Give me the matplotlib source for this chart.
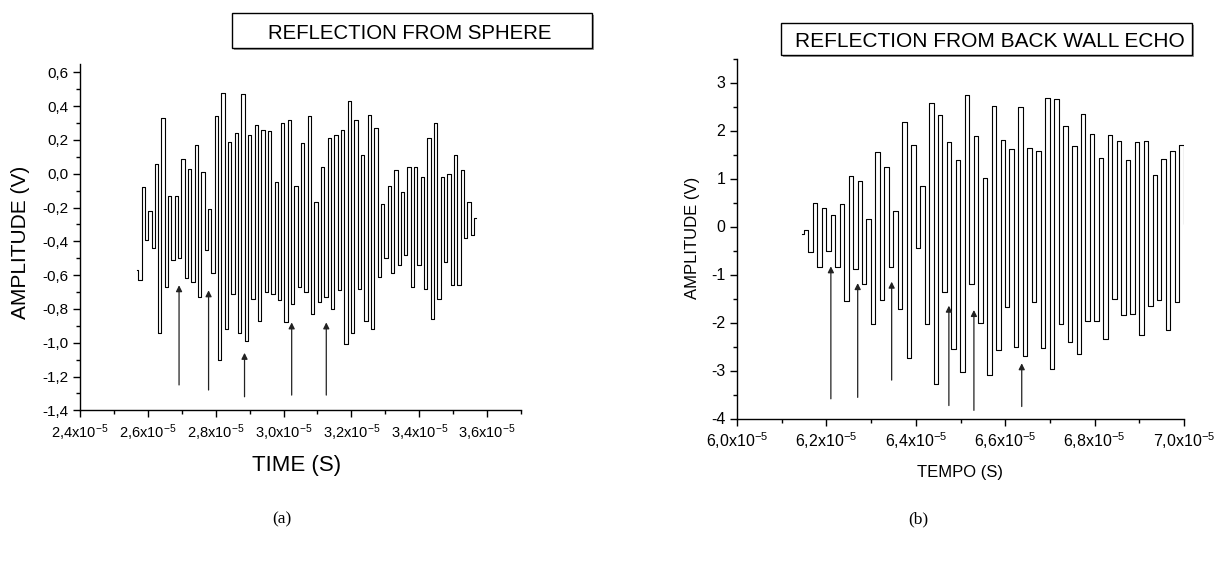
import numpy as np
import matplotlib
matplotlib.use('Agg')
import matplotlib.pyplot as plt
from matplotlib.ticker import FixedLocator, FuncFormatter
from matplotlib.patches import Rectangle

plt.rcParams['font.family'] = ['Liberation Sans', 'DejaVu Sans']
plt.rcParams['mathtext.fontset'] = 'custom'
plt.rcParams['mathtext.rm'] = 'Liberation Sans'
plt.rcParams['mathtext.it'] = 'Liberation Sans'
plt.rcParams['mathtext.default'] = 'regular'
plt.rcParams['axes.unicode_minus'] = False

# ---------------- data (time in units of 1e-5 s, amplitude in V) ----------------
# (a) reflection from sphere: alternating plateau levels (highs / lows)
left_start = [-0.57, -0.63]
left_highs = [-0.08, -0.22, 0.06, 0.33, -0.13, -0.13, 0.09, 0.03, 0.17, 0.01,
              -0.21, 0.34, 0.48, 0.19, 0.24, 0.47, 0.23, 0.29, 0.26, 0.25,
              -0.05, 0.30, 0.32, -0.07, 0.18, 0.34, -0.17, 0.04, 0.21, 0.23,
              0.26, 0.43, 0.32, 0.11, 0.35, 0.27, -0.18, -0.07, 0.02, -0.11,
              0.04, 0.04, -0.02, 0.21, 0.30, -0.02, 0.00, 0.11, 0.02, -0.17,
              -0.26]
left_lows = [-0.39, -0.44, -0.94, -0.67, -0.51, -0.50, -0.62, -0.64, -0.73, -0.45,
             -0.59, -1.10, -0.92, -0.71, -0.94, -0.99, -0.74, -0.87, -0.70, -0.71,
             -0.75, -0.88, -0.77, -0.67, -0.70, -0.83, -0.76, -0.73, -0.80, -0.69,
             -1.01, -0.94, -0.68, -0.87, -0.92, -0.61, -0.50, -0.59, -0.54, -0.48,
             -0.67, -0.54, -0.68, -0.86, -0.74, -0.52, -0.66, -0.66, -0.38, -0.36]
left_t0 = 2.5667      # first sample time (1e-5 s)
left_dt = 0.0098      # sample spacing (1e-5 s)

left_arrow_t = [2.692, 2.779, 2.885, 3.024, 3.126]
left_arrow_tail = [-1.25, -1.28, -1.32, -1.31, -1.31]
left_arrow_tip = [-0.66, -0.69, -1.06, -0.88, -0.88]

left_yticks = [-1.4, -1.2, -1.0, -0.8, -0.6, -0.4, -0.2, 0.0, 0.2, 0.4, 0.6]
left_xticks = [2.4, 2.6, 2.8, 3.0, 3.2, 3.4, 3.6]

# (b) reflection from back wall echo
right_start = [-0.15, -0.08]
right_lows = [-0.54, -0.85, -0.50, -0.85, -1.56, -0.88, -1.19, -2.03, -1.54, -0.85,
              -1.72, -2.74, -0.45, -2.04, -3.29, -1.37, -2.55, -3.03, -1.19, -2.01,
              -3.10, -2.58, -1.68, -2.51, -2.69, -1.58, -2.53, -2.97, -2.04, -2.41,
              -2.65, -1.96, -1.96, -2.34, -1.51, -1.85, -1.83, -2.27, -1.65, -1.54,
              -2.15, -1.58]
right_highs = [0.49, 0.39, 0.25, 0.47, 1.06, 0.94, 0.16, 1.55, 1.25, 0.33,
               2.17, 1.69, 0.85, 2.58, 2.33, 1.77, 1.39, 2.75, 1.88, 1.01,
               2.52, 1.81, 1.62, 2.49, 1.64, 1.57, 2.68, 2.66, 2.10, 1.67,
               2.35, 1.93, 1.43, 1.90, 1.79, 1.39, 1.77, 1.78, 1.08, 1.41,
               1.58, 1.70]
right_end = [0.05]
right_t0 = 6.1446
right_dt = 0.0100

right_arrow_t = [6.210, 6.270, 6.346, 6.474, 6.530, 6.637]
right_arrow_tail = [-3.59, -3.56, -3.20, -3.73, -3.83, -3.75]
right_arrow_tip = [-0.83, -1.18, -1.15, -1.65, -1.74, -2.85]

right_yticks = [-4, -3, -2, -1, 0, 1, 2, 3]
right_xticks = [6.0, 6.2, 6.4, 6.6, 6.8, 7.0]

# ---------------- build series ----------------
left_vals = list(left_start)
for i in range(len(left_highs)):
    left_vals.append(left_highs[i])
    if i < len(left_lows):
        left_vals.append(left_lows[i])
left_vals = np.array(left_vals)
left_t = left_t0 + left_dt * np.arange(len(left_vals))

right_vals = list(right_start)
for lo, hi in zip(right_lows, right_highs):
    right_vals += [lo, hi]
right_vals += right_end
right_vals = np.array(right_vals)
right_t = right_t0 + right_dt * np.arange(len(right_vals))

# ---------------- figure ----------------
W, H = 1220, 572
fig = plt.figure(figsize=(W / 100, H / 100), dpi=100)

def px(x0, y0, x1, y1):
    return [x0 / W, 1 - y1 / H, (x1 - x0) / W, (y1 - y0) / H]

axL = fig.add_axes(px(80, 63.9, 521, 410.3))
axR = fig.add_axes(px(737, 58.5, 1184, 418.5))

def comma(v, nd):
    s = f"{v:.{nd}f}"
    if s.startswith('-') and float(s) == 0:
        s = s[1:]
    return s.replace('.', ',')

def style(ax, fx, fy):
    for s in ['top', 'right']:
        ax.spines[s].set_visible(False)
    for s in ['left', 'bottom']:
        ax.spines[s].set_linewidth(1.0)
    ax.tick_params(which='major', direction='out', length=5, width=1.0)
    ax.tick_params(which='minor', direction='out', length=3, width=1.0)
    ax.tick_params(axis='x', labelsize=fx)
    ax.tick_params(axis='y', labelsize=fy)

# left panel
axL.plot(left_t, left_vals, drawstyle='steps-mid', color='black', lw=0.8)
for t, a, b in zip(left_arrow_t, left_arrow_tail, left_arrow_tip):
    axL.annotate('', xy=(t, b), xytext=(t, a),
                 arrowprops=dict(arrowstyle='-|>', color='#222222', lw=0.9,
                                 mutation_scale=9, shrinkA=0, shrinkB=0))
axL.set_xlim(2.4, 3.7)
axL.set_ylim(-1.4, 0.65)
axL.xaxis.set_major_locator(FixedLocator(left_xticks))
axL.xaxis.set_minor_locator(FixedLocator([2.5, 2.7, 2.9, 3.1, 3.3, 3.5, 3.7]))
axL.yaxis.set_major_locator(FixedLocator(left_yticks))
axL.yaxis.set_minor_locator(FixedLocator([-1.3, -1.1, -0.9, -0.7, -0.5, -0.3, -0.1, 0.1, 0.3, 0.5]))
axL.xaxis.set_major_formatter(FuncFormatter(lambda v, p: comma(v, 1) + r'x10$^{-5}$'))
axL.yaxis.set_major_formatter(FuncFormatter(lambda v, p: comma(v, 1)))
style(axL, 10.5, 11)

# right panel
axR.plot(right_t, right_vals, drawstyle='steps-mid', color='black', lw=0.8)
for t, a, b in zip(right_arrow_t, right_arrow_tail, right_arrow_tip):
    axR.annotate('', xy=(t, b), xytext=(t, a),
                 arrowprops=dict(arrowstyle='-|>', color='#222222', lw=0.9,
                                 mutation_scale=9, shrinkA=0, shrinkB=0))
axR.set_xlim(6.0, 7.0)
axR.set_ylim(-4, 3.5)
axR.xaxis.set_major_locator(FixedLocator(right_xticks))
axR.xaxis.set_minor_locator(FixedLocator([6.1, 6.3, 6.5, 6.7, 6.9]))
axR.yaxis.set_major_locator(FixedLocator(right_yticks))
axR.yaxis.set_minor_locator(FixedLocator([-3.5, -2.5, -1.5, -0.5, 0.5, 1.5, 2.5, 3.5]))
axR.xaxis.set_major_formatter(FuncFormatter(lambda v, p: comma(v, 1) + r'x10$^{-5}$'))
axR.yaxis.set_major_formatter(FuncFormatter(lambda v, p: f"{int(round(v))}"))
style(axR, 11.5, 11.5)

# axis labels
fig.text(20.5 / W, 1 - 242 / H, 'AMPLITUDE (V)', rotation=90, ha='center', va='center', fontsize=15)
fig.text(297 / W, 1 - 466 / H, 'TIME (S)', ha='center', va='center', fontsize=16)
fig.text(693 / W, 1 - 238 / H, 'AMPLITUDE (V)', rotation=90, ha='center', va='center', fontsize=12)
fig.text(960 / W, 1 - 473 / H, 'TEMPO (S)', ha='center', va='center', fontsize=12)

# panel letters
fig.text(282 / W, 1 - 519 / H, '(a)', ha='center', va='center', fontsize=12.5, family='Liberation Serif')
fig.text(918 / W, 1 - 519 / H, '(b)', ha='center', va='center', fontsize=12.5, family='Liberation Serif')

# title boxes
def title_box(x0, y0, x1, y1):
    sh = Rectangle((x0 / W + 2 / W, 1 - y1 / H - 2 / H), (x1 - x0) / W, (y1 - y0) / H,
                   transform=fig.transFigure, facecolor='#9a9a9a', edgecolor='none', zorder=5)
    bx = Rectangle((x0 / W, 1 - y1 / H), (x1 - x0) / W, (y1 - y0) / H,
                   transform=fig.transFigure, facecolor='white', edgecolor='black', lw=1.0, zorder=6)
    fig.add_artist(sh)
    fig.add_artist(bx)

title_box(232, 13.3, 591.7, 47.7)
fig.text(410 / W, 1 - 39.3 / H, 'REFLECTION FROM SPHERE', ha='center', va='baseline',
         fontsize=14.7, zorder=7)
title_box(781, 22.7, 1192, 55)
fig.text(795 / W, 1 - 46.7 / H, 'REFLECTION FROM BACK WALL ECHO', ha='left', va='baseline',
         fontsize=15, zorder=7)

fig.savefig('out.png', dpi=100)
